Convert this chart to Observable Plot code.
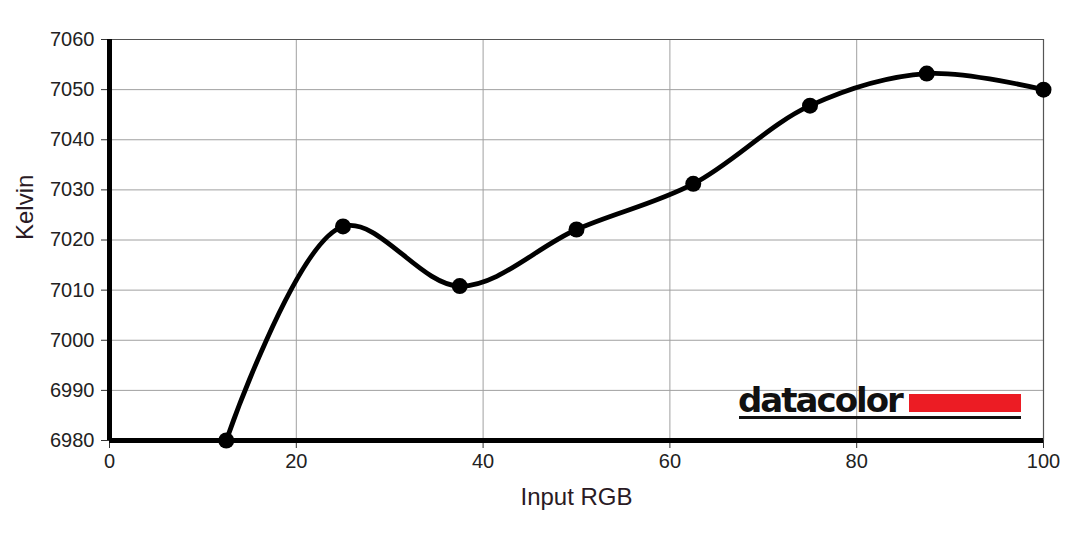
<!DOCTYPE html>
<html>
<head>
<meta charset="utf-8">
<script src="https://cdn.jsdelivr.net/npm/d3@7"></script>
<script src="https://cdn.jsdelivr.net/npm/@observablehq/plot@0.6"></script>
<style>
  html, body { margin: 0; padding: 0; background: #fff; }
  #wrap { position: relative; width: 1080px; height: 538px; font-family: "Liberation Sans", Arial, sans-serif; }
  #logo { position: absolute; left: 738px; top: 381px; width: 284px; height: 40px; }
  #logo .txt { position: absolute; left: 0; top: -1px; font-family: "DejaVu Sans", sans-serif; font-weight: bold; font-size: 34px; letter-spacing: -2px; color: #111; line-height: 40px; }
  #logo .bar { position: absolute; left: 171px; top: 13px; width: 112px; height: 18px; background: #ec1c24; }
  #logo .ul { position: absolute; left: 1px; top: 35px; width: 282px; height: 3px; background: #111; }
</style>
</head>
<body>
<div id="wrap">
  <div id="chart"></div>
  <div id="logo"><span class="txt">datacolor</span><div class="bar"></div><div class="ul"></div></div>
</div>
<script>
const inputRGB = [12.5, 25, 37.5, 50, 62.5, 75, 87.5, 100];
const kelvin = [6980, 7022.7, 7010.8, 7022.1, 7031.2, 7046.8, 7053.2, 7050];
const xTicks = [0, 20, 40, 60, 80, 100];
const yTicks = [6980, 6990, 7000, 7010, 7020, 7030, 7040, 7050, 7060];
const xLabel = "Input RGB";
const yLabel = "Kelvin";

const data = inputRGB.map((x, i) => ({x, y: kelvin[i]}));

const chart = Plot.plot({
  width: 1080,
  height: 538,
  marginLeft: 109,
  marginRight: 37,
  marginTop: 39,
  marginBottom: 98,
  style: {fontFamily: "'Liberation Sans', Arial, sans-serif", background: "#fff"},
  x: {domain: [0, 100]},
  y: {domain: [6980, 7060]},
  marks: [
    Plot.gridX(xTicks.filter(t => t > 0 && t < 100), {stroke: "#a0a0a0", strokeOpacity: 1, strokeWidth: 1}),
    Plot.gridY(yTicks.filter(t => t > 6980 && t < 7060), {stroke: "#a0a0a0", strokeOpacity: 1, strokeWidth: 1}),
    Plot.ruleY([7060], {stroke: "#555", strokeWidth: 1.2}),
    Plot.ruleX([100], {stroke: "#555", strokeWidth: 1.2}),
    Plot.axisY(yTicks, {tickSize: 8, tickPadding: 7, fontSize: 20, label: null, tickFormat: d => String(d), color: "#222", stroke: "#333"}),
    Plot.axisX(xTicks, {tickSize: 8, tickPadding: 5, fontSize: 20, label: null, tickFormat: d => String(d), color: "#222", stroke: "#333"}),
    Plot.ruleX([0], {stroke: "#000", strokeWidth: 5}),
    Plot.ruleY([6980], {stroke: "#000", strokeWidth: 5}),
    Plot.line(data, {x: "x", y: "y", curve: "catmull-rom", stroke: "#000", strokeWidth: 4.8}),
    Plot.dot(data, {x: "x", y: "y", r: 8, fill: "#000", stroke: null}),
    Plot.text([yLabel], {frameAnchor: "left", dx: -84, rotate: -90, fontSize: 24, fill: "#2a1a24"}),
    Plot.text([xLabel], {frameAnchor: "bottom", dy: 64, fontSize: 24, fill: "#2a1a24"})
  ]
});
document.getElementById("chart").appendChild(chart);
</script>
</body>
</html>
